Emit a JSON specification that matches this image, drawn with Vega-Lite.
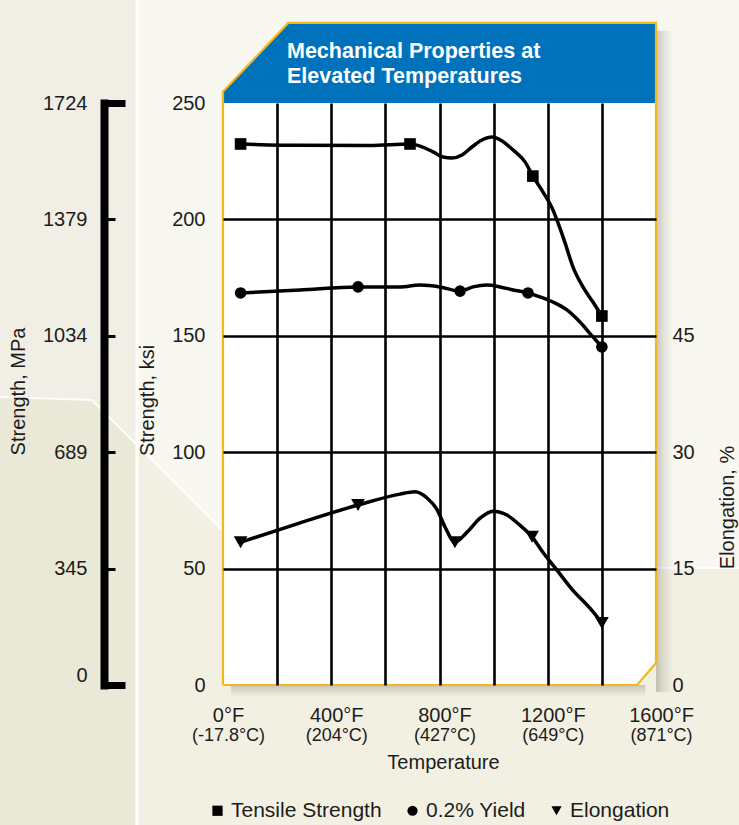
{
  "$schema": "https://vega.github.io/schema/vega-lite/v6.json",
  "width": 433,
  "height": 582,
  "autosize": "none",
  "padding": {"left": 223, "top": 103, "right": 83, "bottom": 140},
  "background": "#F8F7F0",
  "config": {
    "font": "Liberation Sans",
    "view": {"stroke": null},
    "axis": {"labelColor": "#1c1c1c", "titleColor": "#1c1c1c", "labelFont": "Liberation Sans", "titleFont": "Liberation Sans", "labelFlush": false, "labelOverlap": false, "titleFontWeight": "normal"},
    "legend": {"labelFont": "Liberation Sans", "labelColor": "#1c1c1c"}
  },
  "datasets": {
    "one": [{"k": 1}],
    "bgLower": [
      {"t": -830, "v": 123.7}, {"t": -484.1, "v": 122.4}, {"t": -3.7, "v": 66.6}, {"t": 1600, "v": 50.3}, {"t": 1910, "v": 50.3}
    ],
    "bgLine": [
      {"g": "a", "t": -830, "v": 123.7}, {"g": "a", "t": -484.1, "v": 122.4}, {"g": "a", "t": -3.7, "v": 66.6},
      {"g": "b", "t": 1600, "v": 50.3}, {"g": "b", "t": 1910, "v": 50.3}
    ],
    "panel": [
      {"t": 0, "v": 250, "v2": 0}, {"t": 1530, "v": 250, "v2": 0}, {"t": 1600, "v": 250, "v2": 9.45}
    ],
    "header": [
      {"t": 0, "v": 254.9, "v2": 250}, {"t": 241.3, "v": 284.4, "v2": 250}, {"t": 1600, "v": 284.4, "v2": 250}
    ],
    "border": [
      {"i": 0, "t": 0, "v": 0}, {"i": 1, "t": 0, "v": 254.9}, {"i": 2, "t": 241.3, "v": 284.4}, {"i": 3, "t": 1600, "v": 284.4},
      {"i": 4, "t": 1600, "v": 9.45}, {"i": 5, "t": 1530, "v": 0}, {"i": 6, "t": 0, "v": 0}
    ],
    "strength": [
      {"series": "Tensile Strength", "t": 65, "v": 232.4},
      {"series": "Tensile Strength", "t": 285, "v": 231.8},
      {"series": "Tensile Strength", "t": 543, "v": 231.7},
      {"series": "Tensile Strength", "t": 691, "v": 232.4},
      {"series": "Tensile Strength", "t": 728, "v": 231.5},
      {"series": "Tensile Strength", "t": 776, "v": 229.0},
      {"series": "Tensile Strength", "t": 813, "v": 226.8},
      {"series": "Tensile Strength", "t": 846, "v": 226.4},
      {"series": "Tensile Strength", "t": 883, "v": 227.7},
      {"series": "Tensile Strength", "t": 920, "v": 231.1},
      {"series": "Tensile Strength", "t": 957, "v": 234.1},
      {"series": "Tensile Strength", "t": 994, "v": 235.4},
      {"series": "Tensile Strength", "t": 1031, "v": 233.7},
      {"series": "Tensile Strength", "t": 1072, "v": 229.8},
      {"series": "Tensile Strength", "t": 1116, "v": 224.7},
      {"series": "Tensile Strength", "t": 1145, "v": 218.6},
      {"series": "Tensile Strength", "t": 1182, "v": 211.8},
      {"series": "Tensile Strength", "t": 1216, "v": 204.9},
      {"series": "Tensile Strength", "t": 1238, "v": 198.5},
      {"series": "Tensile Strength", "t": 1264, "v": 189.9},
      {"series": "Tensile Strength", "t": 1293, "v": 179.6},
      {"series": "Tensile Strength", "t": 1330, "v": 171.0},
      {"series": "Tensile Strength", "t": 1367, "v": 164.5},
      {"series": "Tensile Strength", "t": 1400, "v": 158.5},
      {"series": "0.2% Yield", "t": 65, "v": 168.4},
      {"series": "0.2% Yield", "t": 285, "v": 169.7},
      {"series": "0.2% Yield", "t": 499, "v": 171.0},
      {"series": "0.2% Yield", "t": 654, "v": 171.0},
      {"series": "0.2% Yield", "t": 728, "v": 171.8},
      {"series": "0.2% Yield", "t": 802, "v": 171.0},
      {"series": "0.2% Yield", "t": 876, "v": 169.2},
      {"series": "0.2% Yield", "t": 924, "v": 171.0},
      {"series": "0.2% Yield", "t": 976, "v": 171.8},
      {"series": "0.2% Yield", "t": 1024, "v": 171.0},
      {"series": "0.2% Yield", "t": 1072, "v": 169.7},
      {"series": "0.2% Yield", "t": 1127, "v": 168.4},
      {"series": "0.2% Yield", "t": 1171, "v": 166.7},
      {"series": "0.2% Yield", "t": 1219, "v": 164.5},
      {"series": "0.2% Yield", "t": 1271, "v": 161.1},
      {"series": "0.2% Yield", "t": 1319, "v": 155.9},
      {"series": "0.2% Yield", "t": 1367, "v": 149.5},
      {"series": "0.2% Yield", "t": 1400, "v": 145.2}
    ],
    "strengthMarks": [
      {"series": "Tensile Strength", "t": 65, "v": 232.4},
      {"series": "Tensile Strength", "t": 691, "v": 232.4},
      {"series": "Tensile Strength", "t": 1145, "v": 218.6},
      {"series": "Tensile Strength", "t": 1400, "v": 158.5},
      {"series": "0.2% Yield", "t": 65, "v": 168.4},
      {"series": "0.2% Yield", "t": 499, "v": 171.0},
      {"series": "0.2% Yield", "t": 876, "v": 169.2},
      {"series": "0.2% Yield", "t": 1127, "v": 168.4},
      {"series": "0.2% Yield", "t": 1400, "v": 145.2}
    ],
    "elong": [
      {"t": 65, "e": 18.4}, {"t": 285, "e": 20.9}, {"t": 499, "e": 23.2}, {"t": 654, "e": 24.6},
      {"t": 709, "e": 24.9}, {"t": 754, "e": 24.1}, {"t": 791, "e": 22.6}, {"t": 820, "e": 20.4},
      {"t": 857, "e": 18.4}, {"t": 902, "e": 19.7}, {"t": 950, "e": 21.5}, {"t": 998, "e": 22.4},
      {"t": 1049, "e": 21.9}, {"t": 1097, "e": 20.6}, {"t": 1142, "e": 19.1}, {"t": 1182, "e": 17.1},
      {"t": 1234, "e": 14.8}, {"t": 1293, "e": 12.2}, {"t": 1356, "e": 9.9}, {"t": 1400, "e": 8.0}
    ],
    "elongMarks": [
      {"series": "Elongation", "t": 65, "e": 18.4},
      {"series": "Elongation", "t": 499, "e": 23.2},
      {"series": "Elongation", "t": 857, "e": 18.4},
      {"series": "Elongation", "t": 1142, "e": 19.1},
      {"series": "Elongation", "t": 1400, "e": 8.0}
    ],
    "mpa": [{"m": 0}, {"m": 1724}],
    "tempAxis": [{"t": 0}, {"t": 1600}]
  },
  "layer": [
    {
      "layer": [
        {
          "data": {"name": "bgLower"},
          "mark": {"type": "area", "color": "#F2F0E2"},
          "encoding": {
            "x": {"field": "t", "type": "quantitative", "scale": {"domain": [0, 1600], "nice": false, "zero": false},
              "axis": {"orient": "bottom", "values": [0, 200, 400, 600, 800, 1000, 1200, 1400, 1600],
                "labelExpr": "datum.value % 400 == 0 ? datum.value + '°F' : ''",
                "grid": true, "gridColor": "#000000", "gridWidth": 2.6,
                "gridOpacity": {"condition": {"test": "datum.value == 0 || datum.value == 1600", "value": 0}, "value": 1},
                "ticks": false, "domain": false, "labelPadding": 20, "labelFontSize": 20, "labelOffset": 5,
                "title": null, "zindex": 1}},
            "y": {"field": "v", "type": "quantitative", "scale": {"domain": [0, 250], "nice": false, "zero": false},
              "axis": {"orient": "left", "values": [0, 50, 100, 150, 200, 250],
                "grid": true, "gridColor": "#000000", "gridWidth": 2.6,
                "gridOpacity": {"condition": {"test": "datum.value == 0 || datum.value == 250", "value": 0}, "value": 1},
                "ticks": false, "domain": false, "labelPadding": 18, "labelFontSize": 20,
                "title": "Strength, ksi", "titleFontSize": 20, "titleAngle": -90, "titleX": -70, "titleY": 297,
                "titleAlign": "center", "titleBaseline": "alphabetic", "zindex": 1}},
            "y2": {"datum": -61}
          }
        },
        {
          "data": {"name": "one"},
          "mark": {"type": "rect", "color": "#8A7F46", "opacity": 0.065},
          "encoding": {
            "x": {"datum": -830, "type": "quantitative"}, "x2": {"datum": -318},
            "y": {"datum": -61, "type": "quantitative"}, "y2": {"datum": 296}
          }
        },
        {
          "data": {"name": "one"},
          "mark": {"type": "rule", "color": "#FFFFFF", "strokeWidth": 3},
          "encoding": {
            "x": {"datum": -318, "type": "quantitative"},
            "y": {"datum": -61, "type": "quantitative"}, "y2": {"datum": 296}
          }
        },
        {
          "data": {"name": "bgLine"},
          "mark": {"type": "line", "color": "#FFFFFF", "strokeWidth": 2, "opacity": 0.9},
          "encoding": {
            "x": {"field": "t", "type": "quantitative"},
            "y": {"field": "v", "type": "quantitative"},
            "detail": {"field": "g"}
          }
        },
        {
          "data": {"name": "one"},
          "mark": {"type": "rect", "color": {"gradient": "linear", "x1": 0, "y1": 0, "x2": 1, "y2": 0,
            "stops": [{"offset": 0, "color": "rgba(90,88,70,0.32)"}, {"offset": 0.4, "color": "rgba(90,88,70,0.14)"}, {"offset": 1, "color": "rgba(90,88,70,0)"}]}},
          "encoding": {
            "x": {"datum": 1600, "type": "quantitative"}, "x2": {"datum": 1665},
            "y": {"datum": -3, "type": "quantitative"}, "y2": {"datum": 281}
          }
        },
        {
          "data": {"name": "one"},
          "mark": {"type": "rect", "color": {"gradient": "linear", "x1": 0, "y1": 0, "x2": 0, "y2": 1,
            "stops": [{"offset": 0, "color": "rgba(90,88,70,0.28)"}, {"offset": 1, "color": "rgba(90,88,70,0)"}]}},
          "encoding": {
            "x": {"datum": 30, "type": "quantitative"}, "x2": {"datum": 1560},
            "y": {"datum": 0, "type": "quantitative"}, "y2": {"datum": -5}
          }
        },
        {
          "data": {"name": "panel"},
          "mark": {"type": "area", "color": "#FFFFFF"},
          "encoding": {
            "x": {"field": "t", "type": "quantitative"},
            "y": {"field": "v", "type": "quantitative"},
            "y2": {"field": "v2"}
          }
        },
        {
          "data": {"name": "header"},
          "mark": {"type": "area", "color": "#0072BC"},
          "encoding": {
            "x": {"field": "t", "type": "quantitative"},
            "y": {"field": "v", "type": "quantitative"},
            "y2": {"field": "v2"}
          }
        },
        {
          "data": {"name": "border"},
          "mark": {"type": "line", "color": "#F5B51E", "strokeWidth": 2.2},
          "encoding": {
            "x": {"field": "t", "type": "quantitative"},
            "y": {"field": "v", "type": "quantitative"},
            "order": {"field": "i"}
          }
        },
        {
          "data": {"name": "one"},
          "mark": {"type": "text", "text": ["Mechanical Properties at", "Elevated Temperatures"], "align": "left",
            "baseline": "alphabetic", "fontSize": 21.5, "fontWeight": "bold", "color": "#FFFFFF", "lineHeight": 24.5,
            "font": "Liberation Sans"},
          "encoding": {
            "x": {"datum": 236.5, "type": "quantitative"},
            "y": {"datum": 269.3, "type": "quantitative"}
          }
        },
        {
          "data": {"name": "strength"},
          "mark": {"type": "line", "color": "#000000", "strokeWidth": 3.5, "interpolate": "monotone"},
          "encoding": {
            "x": {"field": "t", "type": "quantitative"},
            "y": {"field": "v", "type": "quantitative"},
            "detail": {"field": "series"}
          }
        },
        {
          "data": {"name": "strengthMarks"},
          "mark": {"type": "point", "filled": true, "color": "#000000", "opacity": 1, "size": 135},
          "encoding": {
            "x": {"field": "t", "type": "quantitative"},
            "y": {"field": "v", "type": "quantitative"},
            "shape": {"field": "series", "type": "nominal",
              "scale": {"domain": ["Tensile Strength", "0.2% Yield", "Elongation"], "range": ["square", "circle", "triangle-down"]},
              "legend": {"orient": "none", "legendX": -16, "legendY": 697, "direction": "horizontal", "title": null,
                "labelFontSize": 21, "symbolSize": 105, "symbolFillColor": "#000000", "symbolStrokeColor": "#000000",
                "symbolStrokeWidth": 0, "labelOffset": 3, "columnPadding": 20, "zindex": 1}}
          }
        }
      ]
    },
    {
      "layer": [
        {
          "data": {"name": "elong"},
          "mark": {"type": "line", "color": "#000000", "strokeWidth": 3.5, "interpolate": "monotone"},
          "encoding": {
            "x": {"field": "t", "type": "quantitative", "axis": null},
            "y": {"field": "e", "type": "quantitative", "scale": {"domain": [0, 75], "nice": false, "zero": false},
              "axis": {"orient": "right", "values": [0, 15, 30, 45], "grid": false, "ticks": false, "domain": false,
                "labelPadding": 16, "labelFontSize": 20, "title": "Elongation, %", "titleFontSize": 20,
                "titleAngle": -90, "titleX": 77, "titleY": 404, "titleAlign": "center", "titleBaseline": "alphabetic", "zindex": 1}}
          }
        },
        {
          "data": {"name": "elongMarks"},
          "mark": {"type": "point", "filled": true, "color": "#000000", "opacity": 1, "size": 190},
          "encoding": {
            "x": {"field": "t", "type": "quantitative", "axis": null},
            "y": {"field": "e", "type": "quantitative"},
            "shape": {"field": "series", "type": "nominal"}
          }
        }
      ]
    },
    {
      "data": {"name": "mpa"},
      "mark": {"type": "point", "opacity": 0},
      "encoding": {
        "y": {"field": "m", "type": "quantitative", "scale": {"domain": [0, 1724], "nice": false, "zero": false},
          "axis": {"orient": "left", "offset": 119, "values": [0, 345, 689, 1034, 1379, 1724], "format": "d", "grid": false,
            "domain": true, "domainColor": "#000000", "domainWidth": 8, "domainCap": "square",
            "ticks": true, "tickSize": -11, "tickWidth": 3, "tickColor": "#000000",
            "labelPadding": 28, "labelFontSize": 20,
            "labelBaseline": {"condition": {"test": "datum.value == 0", "value": "bottom"}, "value": "middle"},
            "title": "Strength, MPa", "titleFontSize": 20, "titleAngle": -90, "titleX": -80, "titleY": 288,
            "titleAlign": "center", "titleBaseline": "alphabetic", "zindex": 1}}
      }
    },
    {
      "data": {"name": "mpa"},
      "mark": {"type": "point", "opacity": 0},
      "encoding": {
        "y": {"field": "m", "type": "quantitative", "scale": {"domain": [0, 1724], "nice": false, "zero": false},
          "axis": {"orient": "left", "offset": 119, "values": [0, 1724], "grid": false, "domain": false,
            "ticks": true, "tickSize": -21, "tickWidth": 7, "tickColor": "#000000", "labels": false,
            "title": null, "zindex": 1}}
      }
    },
    {
      "data": {"name": "tempAxis"},
      "mark": {"type": "point", "opacity": 0},
      "encoding": {
        "x": {"field": "t", "type": "quantitative",
          "axis": {"orient": "bottom", "values": [0, 400, 800, 1200, 1600],
            "labelExpr": "datum.value == 0 ? '(-17.8°C)' : datum.value == 400 ? '(204°C)' : datum.value == 800 ? '(427°C)' : datum.value == 1200 ? '(649°C)' : '(871°C)'",
            "grid": false, "ticks": false, "domain": false, "labelPadding": 41, "labelFontSize": 18, "labelOffset": 5,
            "title": "Temperature", "titleFontSize": 20, "titleX": 220, "titleY": 83, "titleBaseline": "alphabetic",
            "titleAlign": "center", "zindex": 1}}
      }
    }
  ],
  "resolve": {"scale": {"y": "independent"}, "axis": {"x": "independent", "y": "independent"}}
}
